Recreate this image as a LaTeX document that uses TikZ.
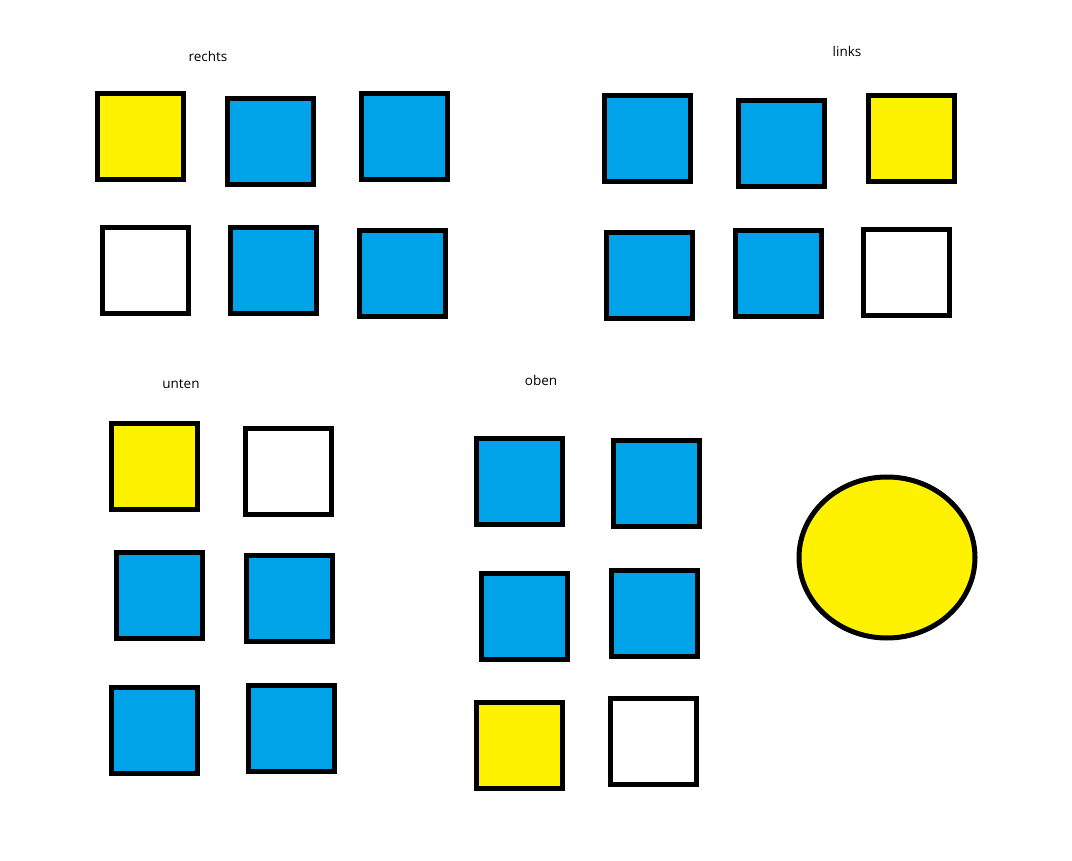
\documentclass[tikz,border=0pt]{standalone}
\usepackage{fontspec}
\setmainfont{Open Sans}
\usetikzlibrary{shapes.geometric}
\definecolor{pblue}{HTML}{00A2E8}
\definecolor{pyellow}{HTML}{FFF200}
\tikzset{
  sq/.style={draw=black, line width=5pt, rectangle, minimum width=86pt, minimum height=86pt, inner sep=0pt},
  bsq/.style={sq, fill=pblue},
  ysq/.style={sq, fill=pyellow},
  wsq/.style={sq, fill=white},
  lbl/.style={font=\fontsize{13.5}{15}\selectfont, text=black, inner sep=0pt}
}
\begin{document}
\begin{tikzpicture}[x=1pt,y=-1pt]
\useasboundingbox (0,0) rectangle (1072,861);
\fill[white] (0,0) rectangle (1072,861);
% rechts
\node[lbl] (trechts) at (208,56) {rechts};
\node[ysq] (r1) at (140,136.5) {};
\node[bsq] (r2) at (270,141.5) {};
\node[bsq] (r3) at (404,136.5) {};
\node[wsq] (r4) at (145,270.5) {};
\node[bsq] (r5) at (273,271) {};
\node[bsq] (r6) at (402,273.5) {};
% links
\node[lbl] (tlinks) at (847,51) {links};
\node[bsq] (l1) at (647,138.5) {};
\node[bsq] (l2) at (781,143.5) {};
\node[ysq] (l3) at (911,138.5) {};
\node[bsq] (l4) at (649,275.5) {};
\node[bsq] (l5) at (778,273.5) {};
\node[wsq] (l6) at (906,272.5) {};
% unten
\node[lbl] (tunten) at (181,384) {unten};
\node[ysq] (u1) at (154.5,466) {};
\node[wsq] (u2) at (288.5,471) {};
\node[bsq] (u3) at (159.5,595) {};
\node[bsq] (u4) at (289.5,598) {};
\node[bsq] (u5) at (154.5,730) {};
\node[bsq] (u6) at (291.5,728) {};
% oben
\node[lbl] (toben) at (541,380) {oben};
\node[bsq] (o1) at (519.5,481) {};
\node[bsq] (o2) at (656.5,483) {};
\node[bsq] (o3) at (524.5,616) {};
\node[bsq] (o4) at (654.5,613) {};
\node[ysq] (o5) at (519.5,745) {};
\node[wsq] (o6) at (653.5,741) {};
% circle
\node[draw=black, line width=5pt, fill=pyellow, ellipse, minimum width=176pt, minimum height=161pt, inner sep=0pt] (c) at (887,557.5) {};
\end{tikzpicture}
\end{document}
